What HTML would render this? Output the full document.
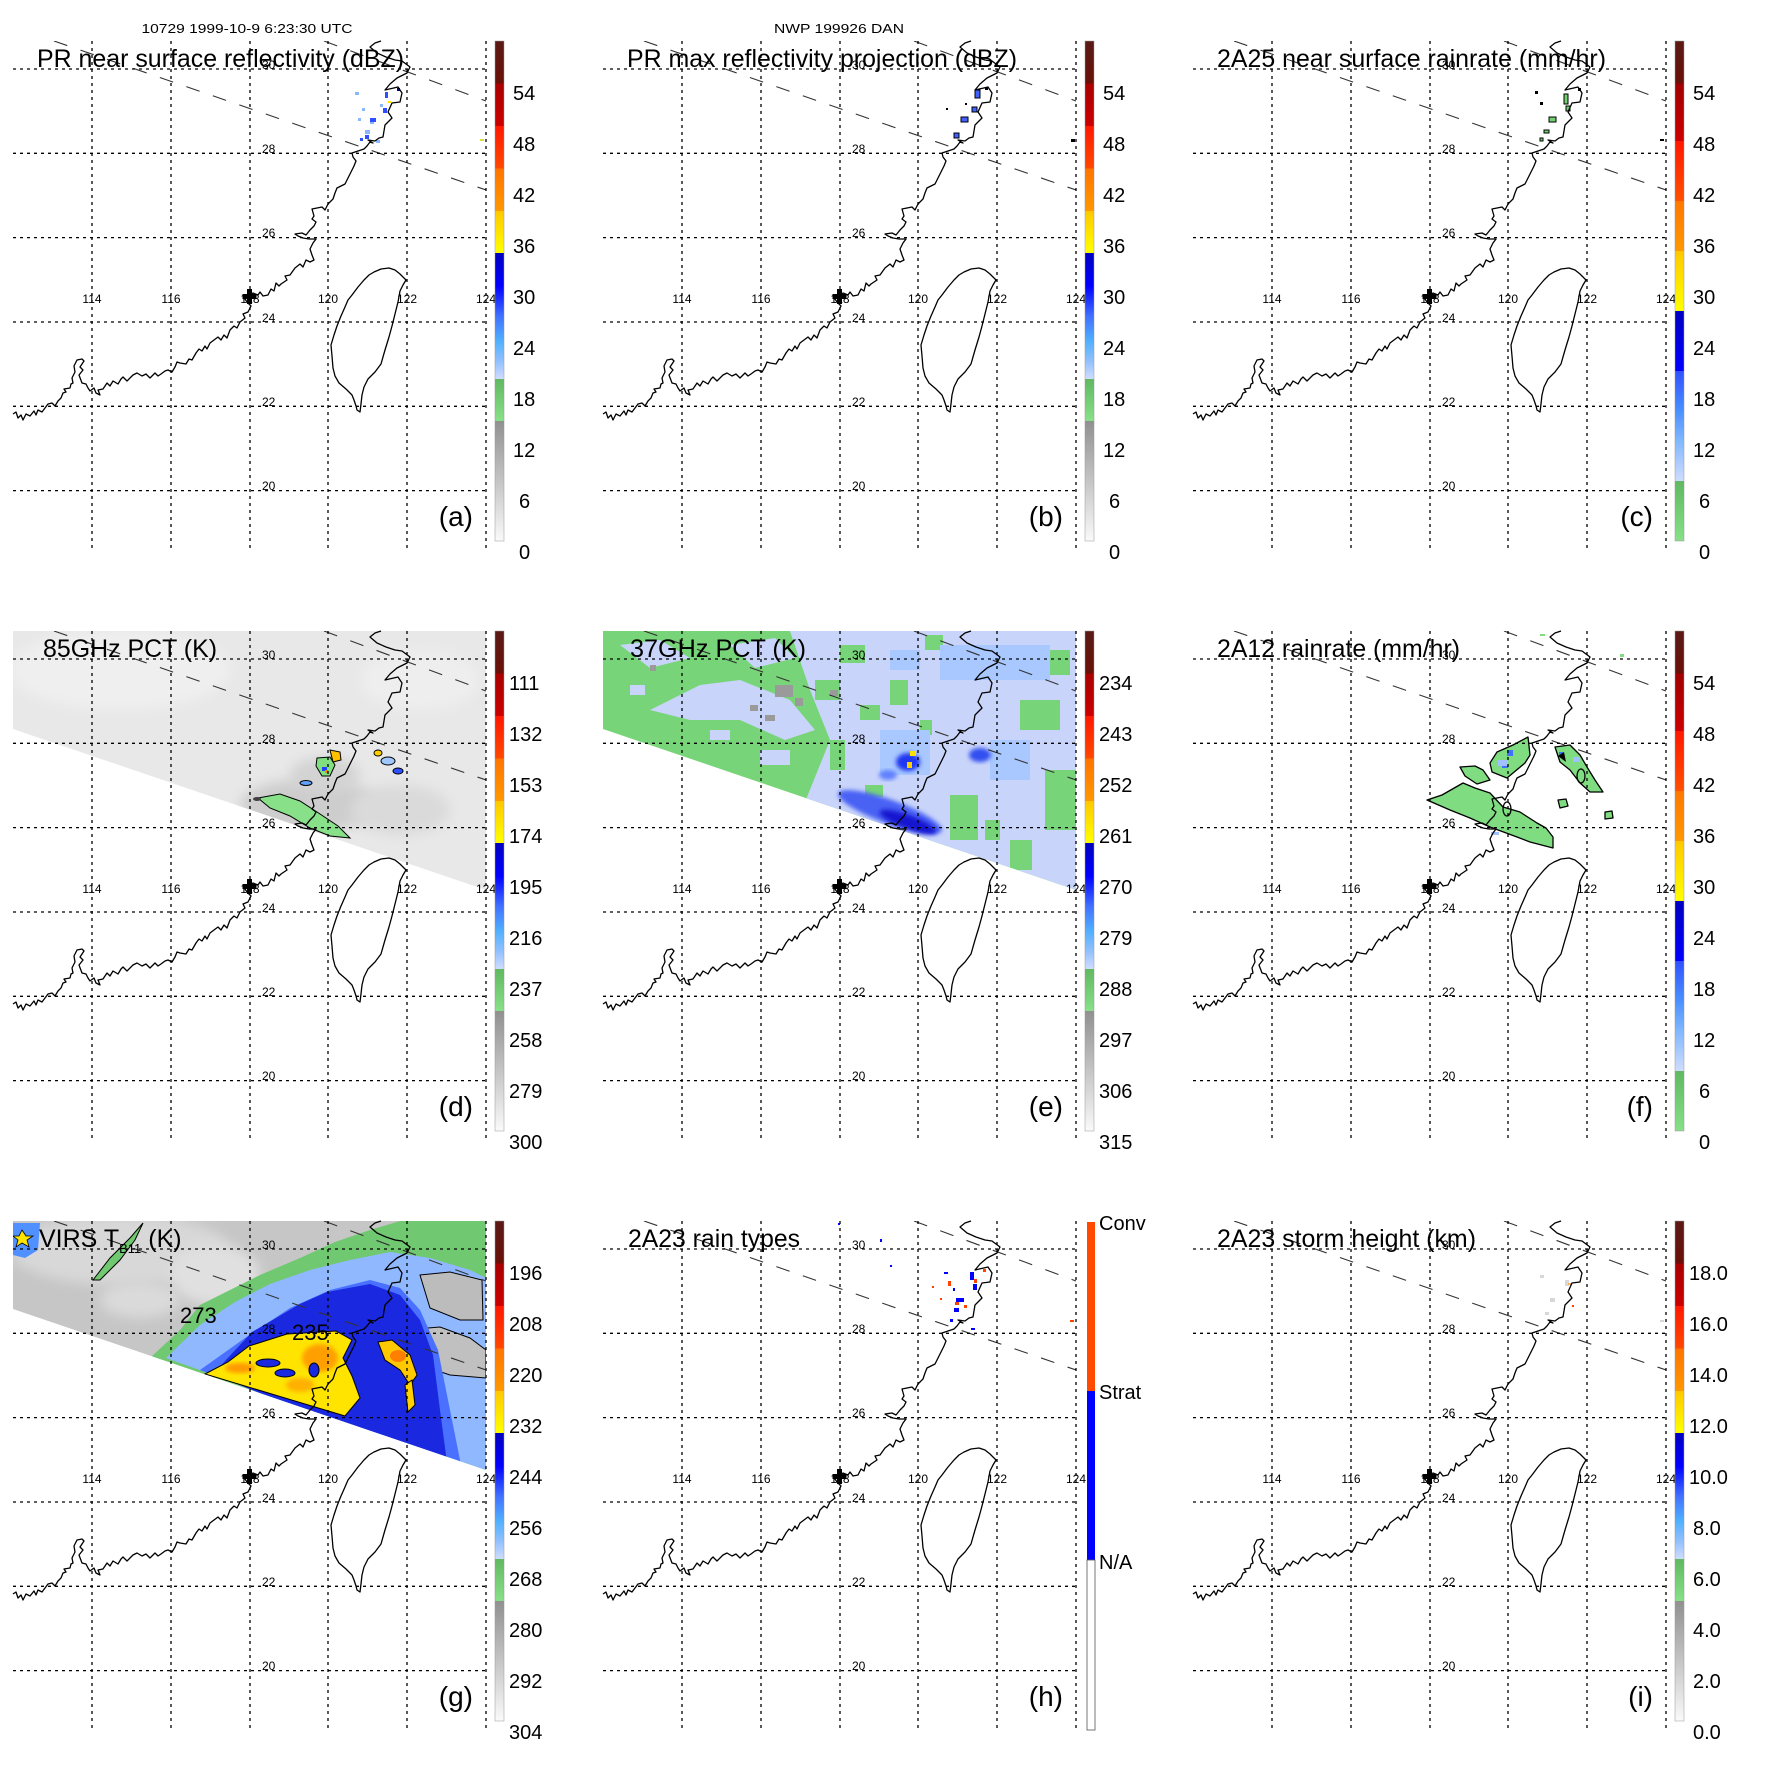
<!DOCTYPE html>
<html><head><meta charset="utf-8"><style>
html,body{margin:0;padding:0;background:#fff;}
svg{display:block;}
text{font-family:"Liberation Sans",Arial,sans-serif;fill:#000;}
.tl{font-size:25px;}
.cb{font-size:20px;}
.gl{font-size:12px;}
.pl{font-size:28px;}
</style></head><body>
<svg width="1771" height="1771" viewBox="0 0 1771 1771" xmlns="http://www.w3.org/2000/svg">
<defs>
<linearGradient id="gA" x1="0" y1="0" x2="0" y2="1">
<stop offset="0" stop-color="#5a1a16"/><stop offset=".085" stop-color="#6a1008"/>
<stop offset=".085" stop-color="#a80000"/><stop offset=".17" stop-color="#cc0000"/>
<stop offset=".17" stop-color="#ff1800"/><stop offset=".255" stop-color="#ff4800"/>
<stop offset=".255" stop-color="#ff7400"/><stop offset=".34" stop-color="#ff9800"/>
<stop offset=".34" stop-color="#ffc800"/><stop offset=".424" stop-color="#ffff00"/>
<stop offset=".424" stop-color="#0000c0"/><stop offset=".49" stop-color="#0000ff"/>
<stop offset=".55" stop-color="#4070ff"/><stop offset=".6" stop-color="#50b0ff"/>
<stop offset=".64" stop-color="#90c0ff"/><stop offset=".676" stop-color="#d0dcff"/>
<stop offset=".676" stop-color="#60b860"/><stop offset=".76" stop-color="#88e088"/>
<stop offset=".76" stop-color="#909090"/><stop offset="1" stop-color="#fafafa"/>
</linearGradient>
<linearGradient id="gC" x1="0" y1="0" x2="0" y2="1">
<stop offset="0" stop-color="#5a1a16"/><stop offset=".085" stop-color="#6a1008"/>
<stop offset=".085" stop-color="#a00000"/><stop offset=".2" stop-color="#cc0000"/>
<stop offset=".2" stop-color="#ff1800"/><stop offset=".32" stop-color="#ff5000"/>
<stop offset=".32" stop-color="#ff7800"/><stop offset=".42" stop-color="#ff9800"/>
<stop offset=".42" stop-color="#ffc800"/><stop offset=".54" stop-color="#ffff00"/>
<stop offset=".54" stop-color="#0000c0"/><stop offset=".66" stop-color="#0000ff"/>
<stop offset=".66" stop-color="#3050ff"/><stop offset=".74" stop-color="#4a90ff"/>
<stop offset=".8" stop-color="#80b8ff"/><stop offset=".88" stop-color="#d0dcff"/>
<stop offset=".88" stop-color="#60b860"/><stop offset="1" stop-color="#88e088"/>
</linearGradient>
<clipPath id="mapclip"><rect x="13" y="41" width="473" height="508"/></clipPath>
<clipPath id="swDE"><polygon points="13,41 486,41 486,300 13,139"/></clipPath>
<clipPath id="swG"><polygon points="13,41 486,41 486,290 13,129"/></clipPath>
<filter id="bl" x="-20%" y="-20%" width="140%" height="140%"><feGaussianBlur stdDeviation="6"/></filter>
<filter id="bl2" x="-20%" y="-20%" width="140%" height="140%"><feGaussianBlur stdDeviation="2"/></filter>

<g id="grid" fill="none" stroke="#000" stroke-width="1.3" stroke-dasharray="3 4">
<path d="M92,41V549M171,41V549M250,41V549M328,41V549M407,41V549M486,41V549"/>
<path d="M13,69H486M13,153.3H486M13,237.6H486M13,322H486M13,406.3H486M13,490.6H486"/>
</g>
<g id="swath" clip-path="url(#mapclip)" fill="none" stroke="#333" stroke-width="1.1" stroke-dasharray="14 14">
<path d="M54,41L486,190"/><path d="M324,41L486,101"/>
</g>
<g id="coast" fill="none" stroke="#000" stroke-width="1.3" stroke-linejoin="round">
<path d="M13,414L16,412L18,418L21,415L23,420L26,414L30,416L34,411L36,415L38,410L42,412L45,408L48,404L52,403L55,406L58,401L61,398L63,393L66,392L64,389L70,388L71,384L73,383L72,378L75,372L74,366L77,360L82,359L84,361L80,367L83,370L79,375L82,383L86,384L88,388L90,391L94,388L96,393L100,395L98,390L103,389L107,383L110,386L113,381L118,384L121,379L123,377L127,381L130,378L133,375L137,373L142,376L146,374L150,378L155,373L158,376L161,374L165,371L168,370L172,372L175,367L177,362L180,363L186,364L189,359L192,360L196,353L199,349L202,351L205,346L207,349L210,343L214,340L218,337L221,340L224,335L227,338L230,330L234,326L237,328L240,322L245,318L243,314L248,312L251,306L247,302L245,299L249,296L253,293L258,295L260,292L263,296L268,295L271,289L274,291L276,283L279,286L281,284L287,280L285,276L290,275L295,268L300,264L303,267L306,260L310,262L314,260L312,255L310,249L313,243L316,239L309,239L303,238L298,236L295,234L302,233L306,235L310,230L314,226L316,222L312,219L314,216L312,209L317,208L322,207L325,210L328,204L333,199L335,193L337,188L341,186L345,184L348,178L351,172L354,166L356,161L353,157L352,153L358,151L364,149L367,146L370,142L373,143L368,140L375,141L379,138L383,137L385,125L392,118L388,112L392,103L400,102L402,93L398,87L385,90L390,84L397,78L407,73L410,67L402,61L395,60L386,57L377,53L370,47L375,43L381,41"/>
<path d="M389,268L395,270L400,274L406,280L403,285L400,291L398,302L395,314L392,326L389,337L385,350L381,364L375,372L368,379L364,387L362,395L361,404L360,412L357,410L356,406L354,400L352,395L346,389L339,383L335,376L333,368L332,356L331,345L334,335L337,326L341,316L345,307L348,300L352,295L358,287L364,280L369,275L374,272L381,269Z"/>
</g>
<g id="plus"><rect x="242.5" y="294" width="14" height="5"/><rect x="247" y="289" width="5" height="15"/></g>
</defs>

<text x="247" y="33" font-size="13" text-anchor="middle" textLength="211" lengthAdjust="spacingAndGlyphs">10729 1999-10-9 6:23:30 UTC</text>
<text x="839" y="33" font-size="13" text-anchor="middle" textLength="130" lengthAdjust="spacingAndGlyphs">NWP 199926 DAN</text>

<!-- A -->
<g transform="translate(0,0)">
<g fill="#8ab8ff"><rect x="355" y="92" width="4" height="3"/><rect x="362" y="108" width="3" height="3"/><rect x="370" y="120" width="4" height="4"/><rect x="365" y="130" width="5" height="4"/><rect x="380" y="104" width="3" height="3"/><rect x="376" y="140" width="4" height="3"/><rect x="358" y="118" width="3" height="3"/></g>
<g fill="#3050ff"><rect x="385" y="92" width="3" height="6"/><rect x="383" y="108" width="4" height="5"/><rect x="370" y="118" width="6" height="4"/><rect x="365" y="135" width="4" height="4"/><rect x="360" y="138" width="3" height="3"/><rect x="397" y="88" width="3" height="3" fill="#000080"/></g>
<rect x="388" y="101" width="3" height="2" fill="#ffe000"/><rect x="480" y="139" width="4" height="2" fill="#e0e040"/>
<use href="#swath"/><use href="#grid"/><use href="#coast"/><use href="#plus"/>
</g>

<!-- B -->
<g transform="translate(590,0)">
<g fill="#4060ff" stroke="#000" stroke-width="1"><rect x="385" y="90" width="5" height="8"/><rect x="371" y="117" width="7" height="5"/><rect x="364" y="133" width="5" height="5"/><rect x="382" y="107" width="5" height="5"/></g>
<g fill="#000"><rect x="356" y="108" width="2" height="2"/><rect x="375" y="103" width="2" height="2"/><rect x="481" y="139" width="4" height="3"/><rect x="395" y="87" width="3" height="3"/></g>
<use href="#swath"/><use href="#grid"/><use href="#coast"/><use href="#plus"/>
</g>

<!-- C -->
<g transform="translate(1180,0)">
<g fill="#70d070" stroke="#000" stroke-width="1"><rect x="384" y="94" width="4" height="10"/><rect x="386" y="106" width="4" height="5"/><rect x="369" y="117" width="7" height="5"/><rect x="364" y="130" width="5" height="3"/><rect x="360" y="138" width="3" height="3"/></g>
<g fill="#000"><rect x="355" y="91" width="3" height="3"/><rect x="360" y="102" width="3" height="3"/><rect x="480" y="139" width="4" height="2"/><rect x="398" y="88" width="3" height="3"/></g>
<use href="#swath"/><use href="#grid"/><use href="#coast"/><use href="#plus"/>
</g>

<!-- D -->
<g transform="translate(0,590)">
<g clip-path="url(#swDE)">
<rect x="13" y="41" width="473" height="300" fill="#e8e8e8"/>
<ellipse cx="120" cy="80" rx="110" ry="40" fill="#efefef" filter="url(#bl)"/>
<ellipse cx="420" cy="90" rx="60" ry="30" fill="#eeeeee" filter="url(#bl)"/>
<ellipse cx="310" cy="215" rx="70" ry="26" fill="#cdcdcd" filter="url(#bl)"/>
<ellipse cx="325" cy="185" rx="35" ry="18" fill="#d3d3d3" filter="url(#bl)"/>
<ellipse cx="400" cy="220" rx="50" ry="25" fill="#dadada" filter="url(#bl)"/>
<polygon points="258,208 280,204 300,211 320,224 338,236 350,248 330,246 310,238 290,226 270,218" fill="#88e088" stroke="#000" stroke-width="1"/>
<polygon points="317,168 330,167 335,175 330,186 322,186 316,176" fill="#80e080" stroke="#000" stroke-width="1"/>
<polygon points="330,160 340,162 341,170 333,172" fill="#ffc000" stroke="#000" stroke-width="1"/>
<rect x="322" y="177" width="5" height="4" fill="#2040ff"/><rect x="325" y="180" width="3" height="3" fill="#ff8000"/>
<ellipse cx="306" cy="193" rx="6" ry="2.5" fill="#60a0ff" stroke="#000"/>
<ellipse cx="257" cy="209" rx="4" ry="2" fill="#404040"/>
<ellipse cx="378" cy="163" rx="4" ry="3" fill="#ffd000" stroke="#000"/>
<ellipse cx="388" cy="171" rx="7" ry="4" fill="#a0c8ff" stroke="#000"/>
<ellipse cx="398" cy="181" rx="5" ry="3" fill="#3050ff" stroke="#000"/>
</g>
<use href="#swath"/><use href="#grid"/><use href="#coast"/><use href="#plus"/>
</g>

<!-- E -->
<g transform="translate(590,590)">
<g clip-path="url(#swDE)">
<rect x="13" y="41" width="473" height="300" fill="#78d478"/>
<polygon points="200,41 486,41 486,300 215,212 240,150 220,100" fill="#c8d4fa"/>
<polygon points="60,120 110,95 150,90 200,110 225,140 195,150 150,130 100,130" fill="#c8d4fa"/>
<polygon points="30,55 70,50 100,68 60,78" fill="#c8d4fa"/>
<polygon points="140,55 185,48 205,68 165,78" fill="#c8d4fa"/>
<g fill="#c8d4fa"><rect x="120" y="140" width="20" height="10"/><rect x="40" y="95" width="15" height="10"/><rect x="170" y="160" width="30" height="15"/></g>
<g fill="#78d478"><rect x="250" y="55" width="25" height="18"/><rect x="225" y="90" width="25" height="20"/><rect x="300" y="90" width="18" height="25"/><rect x="270" y="115" width="20" height="15"/><rect x="430" y="110" width="40" height="30"/><rect x="455" y="180" width="31" height="60"/><rect x="360" y="205" width="28" height="45"/><rect x="240" y="150" width="15" height="30"/><rect x="335" y="45" width="18" height="15"/><rect x="395" y="230" width="15" height="20"/><rect x="420" y="250" width="22" height="30"/><rect x="460" y="60" width="20" height="25"/><rect x="330" y="130" width="12" height="15"/><rect x="275" y="195" width="18" height="12"/></g>
<g fill="#a8c8ff"><rect x="350" y="55" width="110" height="35"/><rect x="290" y="140" width="50" height="45"/><rect x="400" y="150" width="40" height="40"/><rect x="300" y="60" width="30" height="20"/></g>
<g fill="#9a9a9a"><rect x="185" y="95" width="18" height="12"/><rect x="205" y="108" width="8" height="8"/><rect x="160" y="115" width="8" height="6"/><rect x="60" y="75" width="6" height="6"/><rect x="240" y="100" width="8" height="6"/><rect x="175" y="125" width="10" height="6"/></g>
<ellipse cx="300" cy="222" rx="55" ry="12" transform="rotate(20 300 222)" fill="#4a62f4" filter="url(#bl2)"/>
<ellipse cx="318" cy="232" rx="30" ry="7" transform="rotate(20 318 232)" fill="#1818d0" filter="url(#bl2)"/>
<ellipse cx="318" cy="172" rx="12" ry="9" fill="#2038f0" filter="url(#bl2)"/>
<ellipse cx="298" cy="185" rx="9" ry="5" fill="#6080ff" filter="url(#bl2)"/>
<rect x="320" y="161" width="6" height="5" fill="#ffe000"/><rect x="317" y="172" width="5" height="6" fill="#ffd000"/>
<ellipse cx="390" cy="165" rx="11" ry="7" fill="#3050f0" filter="url(#bl2)"/>
</g>
<use href="#swath"/><use href="#grid"/><use href="#coast"/><use href="#plus"/>
</g>

<!-- F -->
<g transform="translate(1180,590)">
<g fill="#80dc80" stroke="#000" stroke-width="1.3" stroke-linejoin="round">
<polygon points="247,210 262,205 283,193 295,198 310,203 323,217 340,222 357,233 366,238 373,247 373,258 350,252 337,247 310,237 290,228 270,220"/>
<polygon points="280,177 295,176 303,180 310,190 297,194 285,186"/>
<polygon points="310,173 317,162 333,155 348,147 350,165 345,173 327,188 312,182"/>
<polygon points="375,157 390,155 400,165 407,177 415,190 423,202 410,202 400,193 390,180 380,172"/>
<polygon points="378,210 386,209 388,216 380,218"/>
<polygon points="425,222 432,221 433,228 425,229"/>
</g>
<g fill="#4070ff"><rect x="327" y="160" width="6" height="6"/><rect x="322" y="172" width="6" height="6"/><rect x="379" y="162" width="4" height="4"/></g>
<g fill="#a0c0ff"><rect x="318" y="170" width="10" height="6"/><rect x="393" y="167" width="7" height="5"/><rect x="311" y="242" width="8" height="3"/></g>
<path d="M378,166l6,-4l2,10z" fill="#000"/>
<ellipse cx="327" cy="219" rx="4" ry="7" fill="none" stroke="#000" stroke-width="1.3"/>
<ellipse cx="401" cy="186" rx="4" ry="7" fill="none" stroke="#000" stroke-width="1.3"/>
<rect x="360" y="44" width="5" height="2" fill="#80dc80"/><rect x="440" y="64" width="4" height="3" fill="#80dc80"/>
<use href="#swath"/><use href="#grid"/><use href="#coast"/><use href="#plus"/>
</g>

<!-- G -->
<g transform="translate(0,1180)">
<g clip-path="url(#swG)">
<rect x="13" y="41" width="473" height="260" fill="#c6c6c6"/>
<ellipse cx="120" cy="70" rx="110" ry="35" fill="#d8d8d8" filter="url(#bl)"/>
<ellipse cx="215" cy="95" rx="45" ry="30" fill="#e0e0e0" filter="url(#bl)"/>
<ellipse cx="140" cy="120" rx="40" ry="18" fill="#dadada" filter="url(#bl)"/>
<polygon points="150,178 180,150 200,125 230,110 260,95 300,78 335,62 370,50 400,41 486,41 486,292" fill="#70c870"/>
<polygon points="166,178 200,145 235,122 270,104 310,90 350,80 390,72 430,78 470,90 486,98 486,292" fill="#90b8ff"/>
<polygon points="420,95 450,92 482,100 483,140 460,140 430,128" fill="#bcbcbc" stroke="#000" stroke-width="1"/>
<polygon points="404,150 440,147 470,158 486,170 486,198 450,195 420,185" fill="#c0c0c0" stroke="#000" stroke-width="1"/>
<polygon points="200,190 245,158 290,128 330,110 370,100 400,108 420,130 438,170 450,230 462,290" fill="#4a70ff"/>
<polygon points="213,194 252,152 300,124 327,112 370,104 400,115 420,140 433,175 440,230 448,290" fill="#1a28e0"/>
<polygon points="205,194 228,182 249,166 287,154 336,151 352,160 343,178 352,196 360,218 345,236 205,194" fill="#ffe400" stroke="#000" stroke-width="1"/>
<ellipse cx="320" cy="178" rx="18" ry="14" fill="#ffa000" filter="url(#bl2)"/>
<ellipse cx="300" cy="205" rx="14" ry="7" fill="#ffb000" filter="url(#bl2)"/>
<ellipse cx="240" cy="188" rx="15" ry="5" fill="#ff9800" filter="url(#bl2)"/>
<ellipse cx="268" cy="183" rx="12" ry="4" fill="#1a28e0" stroke="#000"/>
<ellipse cx="285" cy="193" rx="10" ry="4" fill="#1a28e0" stroke="#000"/>
<ellipse cx="314" cy="190" rx="5" ry="7" fill="#1a28e0" stroke="#000"/>
<polygon points="378,162 392,160 410,175 417,195 410,205 400,190 385,180" fill="#ffc800" stroke="#000"/>
<ellipse cx="398" cy="176" rx="8" ry="6" fill="#ff8000"/>
<polygon points="405,205 412,200 415,225 408,232" fill="#ffd000" stroke="#000"/>
<polygon points="93,100 110,78 130,58 143,43 135,60 120,80 100,100" fill="#70c870" stroke="#000"/>
<polygon points="13,43 40,43 38,70 25,78 13,75" fill="#5090ff"/>
<polygon points="22,50 26,56 33,56 27,60 29,67 22,63 16,67 18,60 13,56 19,56" fill="#ffe400" stroke="#000" stroke-width=".8"/>
</g>
<use href="#swath"/><use href="#grid"/><use href="#coast"/><use href="#plus"/>
<text x="180" y="143" font-size="22">273</text>
<text x="292" y="160" font-size="22">235</text>
</g>

<!-- H -->
<g transform="translate(590,1180)">
<g fill="#ff4400"><rect x="358" y="101" width="3" height="5"/><rect x="342" y="106" width="2" height="2"/><rect x="365" y="122" width="4" height="3"/><rect x="374" y="125" width="3" height="3"/><rect x="384" y="99" width="3" height="4"/><rect x="393" y="89" width="3" height="3"/><rect x="480" y="140" width="4" height="2"/><rect x="350" y="118" width="2" height="2"/></g>
<g fill="#0000ff"><rect x="380" y="92" width="4" height="8"/><rect x="383" y="104" width="4" height="6"/><rect x="366" y="118" width="8" height="4"/><rect x="364" y="128" width="5" height="4"/><rect x="360" y="139" width="3" height="3"/><rect x="354" y="92" width="4" height="2"/><rect x="363" y="108" width="2" height="3"/><rect x="381" y="148" width="4" height="2"/><rect x="290" y="59" width="2" height="3"/><rect x="248" y="43" width="2" height="2"/><rect x="300" y="85" width="2" height="2"/></g>
<use href="#swath"/><use href="#grid"/><use href="#coast"/><use href="#plus"/>
</g>

<!-- I -->
<g transform="translate(1180,1180)">
<g fill="#d8d8d8"><rect x="360" y="95" width="4" height="3"/><rect x="370" y="118" width="5" height="4"/><rect x="385" y="100" width="4" height="6"/><rect x="365" y="132" width="4" height="3"/><rect x="480" y="140" width="4" height="2"/></g>
<rect x="388" y="103" width="3" height="2" fill="#ffb060"/><rect x="392" y="125" width="2" height="2" fill="#ff4000"/>
<use href="#swath"/><use href="#grid"/><use href="#coast"/><use href="#plus"/>
</g>

<!-- grid labels -->
<g class="gl" font-size="12">
<g><text x="92" y="303" text-anchor="middle">114</text><text x="171" y="303" text-anchor="middle">116</text><text x="250" y="303" text-anchor="middle">118</text><text x="328" y="303" text-anchor="middle">120</text><text x="407" y="303" text-anchor="middle">122</text><text x="486" y="303" text-anchor="middle">124</text><text x="262" y="69">30</text><text x="262" y="153">28</text><text x="262" y="237">26</text><text x="262" y="322">24</text><text x="262" y="406">22</text><text x="262" y="490">20</text></g>
<g transform="translate(590,0)"><text x="92" y="303" text-anchor="middle">114</text><text x="171" y="303" text-anchor="middle">116</text><text x="250" y="303" text-anchor="middle">118</text><text x="328" y="303" text-anchor="middle">120</text><text x="407" y="303" text-anchor="middle">122</text><text x="486" y="303" text-anchor="middle">124</text><text x="262" y="69">30</text><text x="262" y="153">28</text><text x="262" y="237">26</text><text x="262" y="322">24</text><text x="262" y="406">22</text><text x="262" y="490">20</text></g>
<g transform="translate(1180,0)"><text x="92" y="303" text-anchor="middle">114</text><text x="171" y="303" text-anchor="middle">116</text><text x="250" y="303" text-anchor="middle">118</text><text x="328" y="303" text-anchor="middle">120</text><text x="407" y="303" text-anchor="middle">122</text><text x="486" y="303" text-anchor="middle">124</text><text x="262" y="69">30</text><text x="262" y="153">28</text><text x="262" y="237">26</text><text x="262" y="322">24</text><text x="262" y="406">22</text><text x="262" y="490">20</text></g>
<g transform="translate(0,590)"><text x="92" y="303" text-anchor="middle">114</text><text x="171" y="303" text-anchor="middle">116</text><text x="250" y="303" text-anchor="middle">118</text><text x="328" y="303" text-anchor="middle">120</text><text x="407" y="303" text-anchor="middle">122</text><text x="486" y="303" text-anchor="middle">124</text><text x="262" y="69">30</text><text x="262" y="153">28</text><text x="262" y="237">26</text><text x="262" y="322">24</text><text x="262" y="406">22</text><text x="262" y="490">20</text></g>
<g transform="translate(590,590)"><text x="92" y="303" text-anchor="middle">114</text><text x="171" y="303" text-anchor="middle">116</text><text x="250" y="303" text-anchor="middle">118</text><text x="328" y="303" text-anchor="middle">120</text><text x="407" y="303" text-anchor="middle">122</text><text x="486" y="303" text-anchor="middle">124</text><text x="262" y="69">30</text><text x="262" y="153">28</text><text x="262" y="237">26</text><text x="262" y="322">24</text><text x="262" y="406">22</text><text x="262" y="490">20</text></g>
<g transform="translate(1180,590)"><text x="92" y="303" text-anchor="middle">114</text><text x="171" y="303" text-anchor="middle">116</text><text x="250" y="303" text-anchor="middle">118</text><text x="328" y="303" text-anchor="middle">120</text><text x="407" y="303" text-anchor="middle">122</text><text x="486" y="303" text-anchor="middle">124</text><text x="262" y="69">30</text><text x="262" y="153">28</text><text x="262" y="237">26</text><text x="262" y="322">24</text><text x="262" y="406">22</text><text x="262" y="490">20</text></g>
<g transform="translate(0,1180)"><text x="92" y="303" text-anchor="middle">114</text><text x="171" y="303" text-anchor="middle">116</text><text x="250" y="303" text-anchor="middle">118</text><text x="328" y="303" text-anchor="middle">120</text><text x="407" y="303" text-anchor="middle">122</text><text x="486" y="303" text-anchor="middle">124</text><text x="262" y="69">30</text><text x="262" y="153">28</text><text x="262" y="237">26</text><text x="262" y="322">24</text><text x="262" y="406">22</text><text x="262" y="490">20</text></g>
<g transform="translate(590,1180)"><text x="92" y="303" text-anchor="middle">114</text><text x="171" y="303" text-anchor="middle">116</text><text x="250" y="303" text-anchor="middle">118</text><text x="328" y="303" text-anchor="middle">120</text><text x="407" y="303" text-anchor="middle">122</text><text x="486" y="303" text-anchor="middle">124</text><text x="262" y="69">30</text><text x="262" y="153">28</text><text x="262" y="237">26</text><text x="262" y="322">24</text><text x="262" y="406">22</text><text x="262" y="490">20</text></g>
<g transform="translate(1180,1180)"><text x="92" y="303" text-anchor="middle">114</text><text x="171" y="303" text-anchor="middle">116</text><text x="250" y="303" text-anchor="middle">118</text><text x="328" y="303" text-anchor="middle">120</text><text x="407" y="303" text-anchor="middle">122</text><text x="486" y="303" text-anchor="middle">124</text><text x="262" y="69">30</text><text x="262" y="153">28</text><text x="262" y="237">26</text><text x="262" y="322">24</text><text x="262" y="406">22</text><text x="262" y="490">20</text></g>
</g>

<!-- titles -->
<g class="tl">
<text x="37" y="67" textLength="367" lengthAdjust="spacingAndGlyphs">PR near surface reflectivity (dBZ)</text>
<text x="627" y="67" textLength="390" lengthAdjust="spacingAndGlyphs">PR max reflectivity projection (dBZ)</text>
<text x="1217" y="67" textLength="389" lengthAdjust="spacingAndGlyphs">2A25 near surface rainrate (mm/hr)</text>
<text x="43" y="657" textLength="174" lengthAdjust="spacingAndGlyphs">85GHz PCT (K)</text>
<text x="630" y="657" textLength="176" lengthAdjust="spacingAndGlyphs">37GHz PCT (K)</text>
<text x="1217" y="657" textLength="243" lengthAdjust="spacingAndGlyphs">2A12 rainrate (mm/hr)</text>
<text x="39" y="1247">VIRS T<tspan font-size="13" dy="6">B11</tspan><tspan dy="-6"> (K)</tspan></text>
<text x="628" y="1247" textLength="172" lengthAdjust="spacingAndGlyphs">2A23 rain types</text>
<text x="1217" y="1247" textLength="259" lengthAdjust="spacingAndGlyphs">2A23 storm height (km)</text>
</g>
<g class="pl">
<text x="473" y="526" text-anchor="end">(a)</text><text x="1063" y="526" text-anchor="end">(b)</text><text x="1653" y="526" text-anchor="end">(c)</text>
<text x="473" y="1116" text-anchor="end">(d)</text><text x="1063" y="1116" text-anchor="end">(e)</text><text x="1653" y="1116" text-anchor="end">(f)</text>
<text x="473" y="1706" text-anchor="end">(g)</text><text x="1063" y="1706" text-anchor="end">(h)</text><text x="1653" y="1706" text-anchor="end">(i)</text>
</g>

<!-- colorbars -->
<g class="cb">
<rect x="495" y="41" width="9" height="500" fill="url(#gA)" stroke="#999" stroke-width=".5"/>
<g><text x="513" y="100">54</text><text x="513" y="151">48</text><text x="513" y="202">42</text><text x="513" y="253">36</text><text x="513" y="304">30</text><text x="513" y="355">24</text><text x="513" y="406">18</text><text x="513" y="457">12</text><text x="519" y="508">6</text><text x="519" y="559">0</text></g>
<rect x="1085" y="41" width="9" height="500" fill="url(#gA)" stroke="#999" stroke-width=".5"/>
<g transform="translate(590,0)"><text x="513" y="100">54</text><text x="513" y="151">48</text><text x="513" y="202">42</text><text x="513" y="253">36</text><text x="513" y="304">30</text><text x="513" y="355">24</text><text x="513" y="406">18</text><text x="513" y="457">12</text><text x="519" y="508">6</text><text x="519" y="559">0</text></g>
<rect x="1675" y="41" width="9" height="500" fill="url(#gC)" stroke="#999" stroke-width=".5"/>
<g transform="translate(1180,0)"><text x="513" y="100">54</text><text x="513" y="151">48</text><text x="513" y="202">42</text><text x="513" y="253">36</text><text x="513" y="304">30</text><text x="513" y="355">24</text><text x="513" y="406">18</text><text x="513" y="457">12</text><text x="519" y="508">6</text><text x="519" y="559">0</text></g>
<rect x="495" y="631" width="9" height="500" fill="url(#gA)" stroke="#999" stroke-width=".5"/>
<g transform="translate(0,590)"><text x="509" y="100">111</text><text x="509" y="151">132</text><text x="509" y="202">153</text><text x="509" y="253">174</text><text x="509" y="304">195</text><text x="509" y="355">216</text><text x="509" y="406">237</text><text x="509" y="457">258</text><text x="509" y="508">279</text><text x="509" y="559">300</text></g>
<rect x="1085" y="631" width="9" height="500" fill="url(#gA)" stroke="#999" stroke-width=".5"/>
<g transform="translate(590,590)"><text x="509" y="100">234</text><text x="509" y="151">243</text><text x="509" y="202">252</text><text x="509" y="253">261</text><text x="509" y="304">270</text><text x="509" y="355">279</text><text x="509" y="406">288</text><text x="509" y="457">297</text><text x="509" y="508">306</text><text x="509" y="559">315</text></g>
<rect x="1675" y="631" width="9" height="500" fill="url(#gC)" stroke="#999" stroke-width=".5"/>
<g transform="translate(1180,590)"><text x="513" y="100">54</text><text x="513" y="151">48</text><text x="513" y="202">42</text><text x="513" y="253">36</text><text x="513" y="304">30</text><text x="513" y="355">24</text><text x="513" y="406">18</text><text x="513" y="457">12</text><text x="519" y="508">6</text><text x="519" y="559">0</text></g>
<rect x="495" y="1221" width="9" height="500" fill="url(#gA)" stroke="#999" stroke-width=".5"/>
<g transform="translate(0,1180)"><text x="509" y="100">196</text><text x="509" y="151">208</text><text x="509" y="202">220</text><text x="509" y="253">232</text><text x="509" y="304">244</text><text x="509" y="355">256</text><text x="509" y="406">268</text><text x="509" y="457">280</text><text x="509" y="508">292</text><text x="509" y="559">304</text></g>
<g transform="translate(590,1180)">
<rect x="497" y="42" width="8" height="169" fill="#ff4a00"/>
<rect x="497" y="211" width="8" height="169" fill="#0000ff"/>
<rect x="497" y="380" width="8" height="170" fill="#fff" stroke="#555" stroke-width=".8"/>
<text x="509" y="50">Conv</text><text x="509" y="219">Strat</text><text x="509" y="389">N/A</text>
</g>
<rect x="1675" y="1221" width="9" height="500" fill="url(#gA)" stroke="#999" stroke-width=".5"/>
<g transform="translate(1180,1180)"><text x="509" y="100">18.0</text><text x="509" y="151">16.0</text><text x="509" y="202">14.0</text><text x="509" y="253">12.0</text><text x="509" y="304">10.0</text><text x="513" y="355">8.0</text><text x="513" y="406">6.0</text><text x="513" y="457">4.0</text><text x="513" y="508">2.0</text><text x="513" y="559">0.0</text></g>
</g>
</svg>
</body></html>
